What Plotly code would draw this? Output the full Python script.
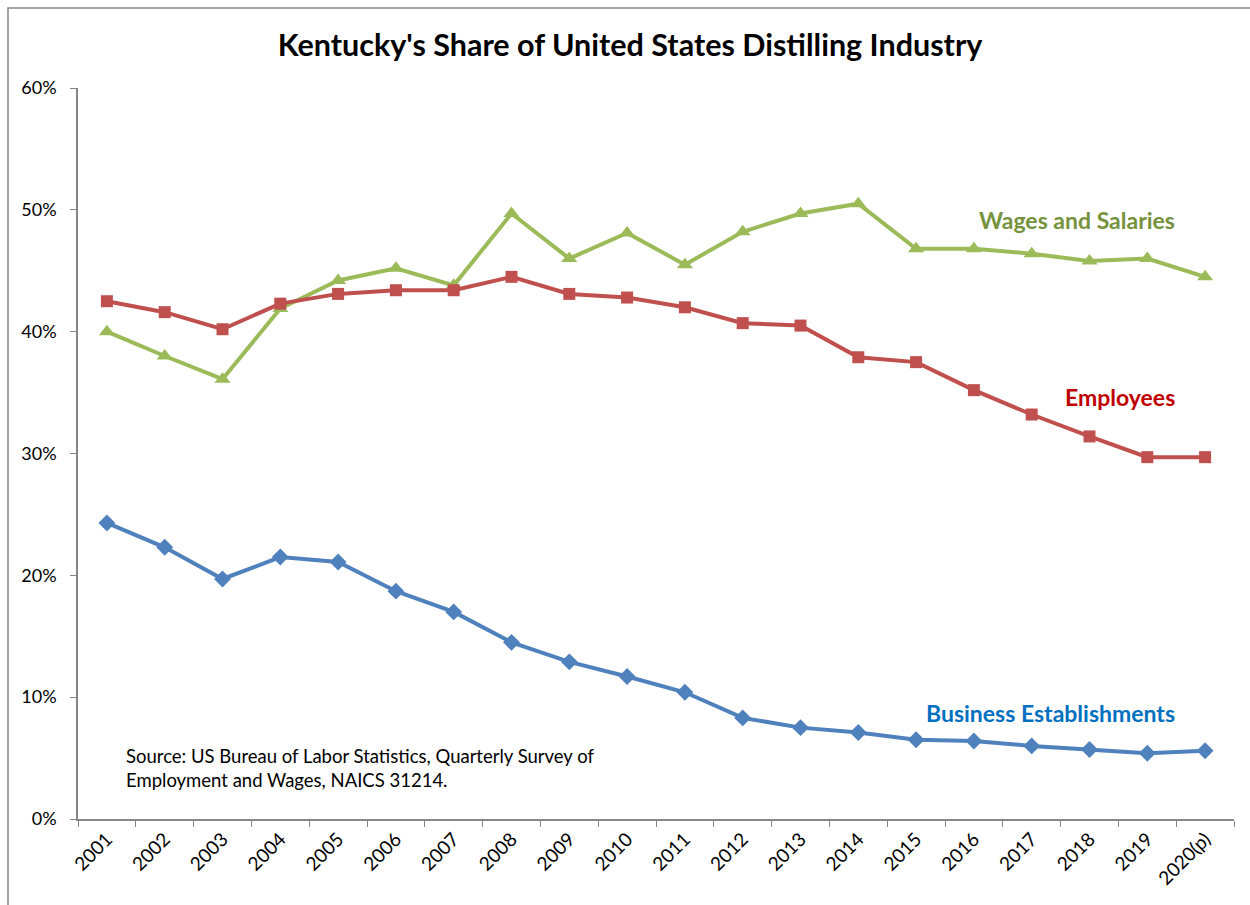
import plotly.graph_objects as go

years = ["2001", "2002", "2003", "2004", "2005", "2006", "2007", "2008", "2009", "2010",
         "2011", "2012", "2013", "2014", "2015", "2016", "2017", "2018", "2019", "2020(p)"]

wages = [40.0, 38.0, 36.1, 41.9, 44.2, 45.2, 43.8, 49.7, 46.0, 48.1,
         45.5, 48.2, 49.7, 50.5, 46.8, 46.8, 46.4, 45.8, 46.0, 44.5]
employees = [42.5, 41.6, 40.2, 42.3, 43.1, 43.4, 43.4, 44.5, 43.1, 42.8,
             42.0, 40.7, 40.5, 37.9, 37.5, 35.2, 33.2, 31.4, 29.7, 29.7]
establishments = [24.3, 22.3, 19.7, 21.5, 21.1, 18.7, 17.0, 14.5, 12.9, 11.7,
                  10.4, 8.3, 7.5, 7.1, 6.5, 6.4, 6.0, 5.7, 5.4, 5.6]

FONT = "Lato"
AXIS = "#868686"

fig = go.Figure()
fig.add_trace(go.Scatter(x=years, y=[v / 100 for v in wages], mode="lines+markers",
                         name="Wages and Salaries",
                         line=dict(color="#9BBB59", width=4),
                         marker=dict(symbol="triangle-up", size=14, color="#9BBB59")))
fig.add_trace(go.Scatter(x=years, y=[v / 100 for v in employees], mode="lines+markers",
                         name="Employees",
                         line=dict(color="#C0504D", width=4),
                         marker=dict(symbol="square", size=12, color="#C0504D")))
fig.add_trace(go.Scatter(x=years, y=[v / 100 for v in establishments], mode="lines+markers",
                         name="Business Establishments",
                         line=dict(color="#4F81BD", width=4),
                         marker=dict(symbol="diamond", size=13, color="#4F81BD")))

# series labels placed next to their lines
label_x = (1177 - 78) / 1156
labels = [("Wages and Salaries", 0.492, "#76923C"),
          ("Employees", 0.346, "#C00000"),
          ("Business Establishments", 0.087, "#0070C0")]
for text, yv, col in labels:
    fig.add_annotation(x=label_x, xref="paper", y=yv, yref="y",
                       text=f"<b>{text}</b>",
                       showarrow=False, xanchor="right", yanchor="middle",
                       font=dict(family=FONT, size=23, color=col))

fig.add_annotation(x=(124 - 78) / 1156, xref="paper", y=0.042, yref="y",
                   text="Source: US Bureau of Labor Statistics, Quarterly Survey of<br>Employment and Wages, NAICS 31214.",
                   showarrow=False, xanchor="left", yanchor="middle", align="left",
                   font=dict(family=FONT, size=18.5, color="#000000"))

# outer chart border
fig.add_shape(type="rect", xref="paper", yref="paper",
              x0=-70 / 1156, x1=1.2, y0=-0.3, y1=1 + 80 / 731,
              line=dict(color=AXIS, width=1.5), fillcolor="rgba(0,0,0,0)", layer="below")

fig.update_layout(
    width=1250, height=905,
    margin=dict(l=78, r=16, t=88, b=86, autoexpand=False),
    paper_bgcolor="white", plot_bgcolor="white",
    showlegend=False,
    title=dict(text="<b>Kentucky's Share of United States Distilling Industry</b>",
               x=630 / 1250, xanchor="center", y=1 - 45 / 905, yanchor="middle",
               font=dict(family=FONT, size=30.5, color="#000000")),
    xaxis=dict(type="category", range=[-0.5, 19.5], tickson="boundaries",
               ticks="outside", ticklen=6,
               tickcolor=AXIS, showline=True, linecolor=AXIS, linewidth=1.5,
               showgrid=False, tickangle=-45, automargin=False,
               tickfont=dict(family=FONT, size=19, color="#000000")),
    yaxis=dict(range=[0, 0.6], dtick=0.1, tickformat=".0%", ticks="outside", ticklen=6,
               tickcolor=AXIS, showline=True, linecolor=AXIS, linewidth=1.5,
               showgrid=False, zeroline=False, automargin=False, ticklabelstandoff=10,
               tickfont=dict(family=FONT, size=18, color="#000000")),
)

fig.write_html("out.html")
